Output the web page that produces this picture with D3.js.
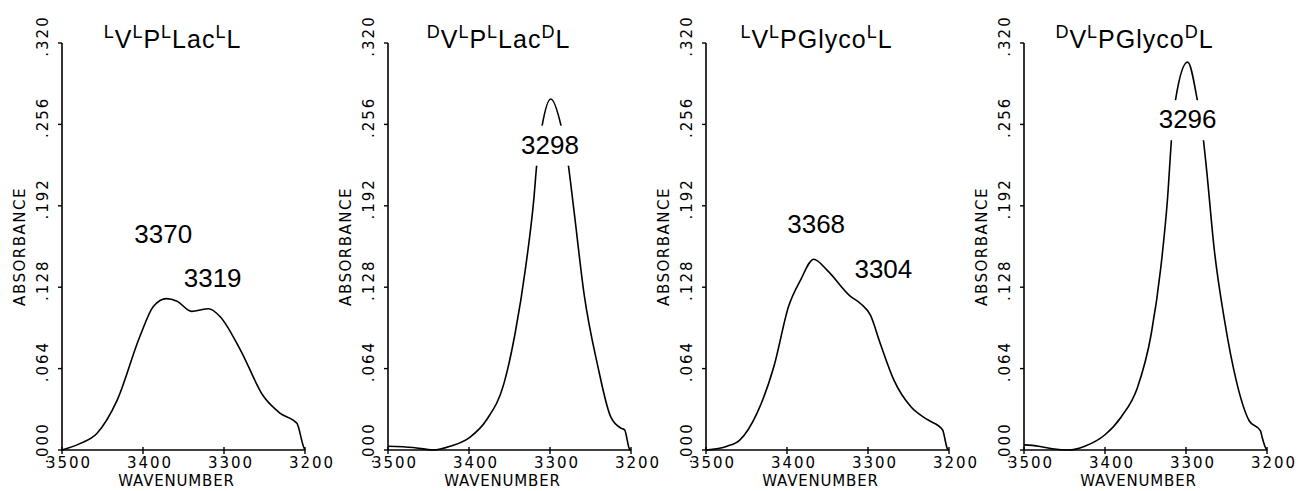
<!DOCTYPE html>
<html>
<head>
<meta charset="utf-8">
<script src="https://cdn.jsdelivr.net/npm/d3@7"></script>
<style>
  body { margin: 0; background: #fff; }
  svg { display: block; }
  .axis-text { font-family: "DejaVu Sans", sans-serif; font-size: 15px; letter-spacing: 2px; fill: #000; }
  .axis-title { font-family: "DejaVu Sans", sans-serif; font-size: 15px; fill: #000; }
  .title { font-family: "Liberation Sans", Arial, sans-serif; font-size: 25px; letter-spacing: 1px; fill: #000; }
  .peak { font-family: "Liberation Sans", Arial, sans-serif; font-size: 26px; fill: #000; }
</style>
</head>
<body>
<svg id="chart" width="1302" height="491"></svg>
<script>
// tick values
const wnTicks = [3500, 3400, 3300, 3200];
const absTicks = [0, 0.064, 0.128, 0.192, 0.256, 0.32];

// LV LP LLac LL
const wn1 = [3500, 3478, 3457, 3432, 3404, 3387, 3371, 3358, 3340, 3319, 3305, 3280, 3251, 3231, 3210, 3202, 3200];
const abs1 = [0, 0.005, 0.013, 0.039, 0.089, 0.113, 0.119, 0.117, 0.109, 0.111, 0.105, 0.079, 0.042, 0.029, 0.021, 0.003, 0];

// DV LP LLac DL
const wn2 = [3500, 3469, 3444, 3423, 3399, 3378, 3357, 3343, 3330, 3320, 3316, 3310, 3299, 3286, 3278, 3270, 3258, 3241, 3225, 3212, 3208, 3202, 3200];
const abs2 = [0.003, 0.002, 0, 0.003, 0.010, 0.024, 0.052, 0.092, 0.144, 0.197, 0.227, 0.254, 0.276, 0.254, 0.227, 0.186, 0.123, 0.066, 0.026, 0.017, 0.016, 0.001, 0];

// LV LPGlyco LL
const wn3 = [3500, 3474, 3458, 3437, 3416, 3398, 3383, 3367, 3350, 3322, 3309, 3297, 3285, 3268, 3247, 3227, 3208, 3202, 3200];
const abs3 = [0, 0.003, 0.008, 0.029, 0.066, 0.113, 0.134, 0.150, 0.141, 0.121, 0.115, 0.106, 0.084, 0.055, 0.034, 0.024, 0.016, 0.001, 0];

// DV LPGlyco DL
const wn4 = [3500, 3482, 3465, 3445, 3425, 3400, 3380, 3360, 3343, 3331, 3323, 3317, 3313, 3298, 3286, 3280, 3275, 3265, 3253, 3237, 3222, 3208, 3206, 3202, 3200];
const abs4 = [0.004, 0.003, 0.001, 0, 0.003, 0.012, 0.026, 0.049, 0.091, 0.144, 0.196, 0.252, 0.275, 0.305, 0.275, 0.252, 0.223, 0.157, 0.104, 0.052, 0.023, 0.015, 0.010, 0.002, 0];

// titles: [text, isSuperscript]
const title1 = [["L", 1], ["V", 0], ["L", 1], ["P", 0], ["L", 1], ["Lac", 0], ["L", 1], ["L", 0]];
const title2 = [["D", 1], ["V", 0], ["L", 1], ["P", 0], ["L", 1], ["Lac", 0], ["D", 1], ["L", 0]];
const title3 = [["L", 1], ["V", 0], ["L", 1], ["PGlyco", 0], ["L", 1], ["L", 0]];
const title4 = [["D", 1], ["V", 0], ["L", 1], ["PGlyco", 0], ["D", 1], ["L", 0]];

// peak labels: [text, wavenumber, absorbance]
const peaks1 = [["3370", 3375, 0.163], ["3319", 3314, 0.128]];
const peaks2 = [["3298", 3300, 0.233]];
const peaks3 = [["3368", 3364, 0.171], ["3304", 3281, 0.135]];
const peaks4 = [["3296", 3298, 0.253]];

const panels = [
  { left: 62, wn: wn1, abs: abs1, title: title1, peaks: peaks1 },
  { left: 388, wn: wn2, abs: abs2, title: title2, peaks: peaks2 },
  { left: 706, wn: wn3, abs: abs3, title: title3, peaks: peaks3 },
  { left: 1024, wn: wn4, abs: abs4, title: title4, peaks: peaks4 },
];

const plotW = 243, plotTop = 43, plotBottom = 450;
const svg = d3.select("#chart");
const fmt = (v) => d3.format(".3f")(v).replace(/^0/, "");

panels.forEach(function (p) {
  const x = d3.scaleLinear().domain([3500, 3200]).range([p.left, p.left + plotW]);
  const y = d3.scaleLinear().domain([0, 0.32]).range([plotBottom, plotTop]);
  const g = svg.append("g");

  // axes lines
  g.append("line").attr("x1", x(3500)).attr("x2", x(3200)).attr("y1", y(0)).attr("y2", y(0))
    .attr("stroke", "#000").attr("stroke-width", 1.6);
  g.append("line").attr("x1", x(3500)).attr("x2", x(3500)).attr("y1", y(0)).attr("y2", y(0.32))
    .attr("stroke", "#000").attr("stroke-width", 1.6);

  // y ticks
  g.selectAll("line.yt").data(absTicks).join("line").attr("class", "yt")
    .attr("x1", x(3500) - 4).attr("x2", x(3500))
    .attr("y1", (d) => y(d)).attr("y2", (d) => y(d))
    .attr("stroke", "#000").attr("stroke-width", 1.4);
  g.selectAll("text.yl").data(absTicks).join("text").attr("class", "yl axis-text")
    .attr("transform", (d) => "translate(" + (x(3500) - 14) + "," + y(d) + ") rotate(-90)")
    .attr("x", 7).attr("text-anchor", "middle")
    .text(fmt);

  // x ticks
  g.selectAll("line.xt").data(wnTicks).join("line").attr("class", "xt")
    .attr("x1", (d) => x(d)).attr("x2", (d) => x(d))
    .attr("y1", y(0) - 3).attr("y2", y(0) + 4)
    .attr("stroke", "#000").attr("stroke-width", 1.4);
  g.selectAll("text.xl").data(wnTicks).join("text").attr("class", "xl axis-text")
    .attr("x", (d) => x(d) + 7).attr("y", 468).attr("text-anchor", "middle")
    .text((d) => d);

  // axis titles
  g.append("text").attr("class", "axis-title")
    .attr("x", x(3350) - 7).attr("y", 486).attr("text-anchor", "middle")
    .attr("letter-spacing", "0.8px")
    .text("WAVENUMBER");
  g.append("text").attr("class", "axis-title")
    .attr("transform", "translate(" + (x(3500) - 37) + "," + y(0.16) + ") rotate(-90)")
    .attr("text-anchor", "middle").attr("letter-spacing", "1.5px")
    .text("ABSORBANCE");

  // spectrum
  const pts = p.wn.map((w, i) => [w, p.abs[i]]);
  const line = d3.line().x((d) => x(d[0])).y((d) => y(d[1])).curve(d3.curveMonotoneX);
  g.append("path").datum(pts).attr("d", line)
    .attr("fill", "none").attr("stroke", "#000").attr("stroke-width", 1.6);

  // peak labels with white gap behind
  p.peaks.forEach(function (pk) {
    const t = g.append("text").attr("class", "peak")
      .attr("x", x(pk[1])).attr("y", y(pk[2])).attr("text-anchor", "middle").text(pk[0]);
    const bb = t.node().getBBox();
    g.insert("rect", "text.peak")
      .attr("x", bb.x - 2).attr("y", bb.y - 4).attr("width", bb.width + 4).attr("height", bb.height + 10)
      .attr("fill", "#fff");
  });

  // panel title
  const tt = g.append("text").attr("class", "title")
    .attr("x", x(3350) - 11).attr("y", 48).attr("text-anchor", "middle");
  p.title.forEach(function (part) {
    tt.append("tspan").text(part[0])
      .attr("font-size", part[1] ? "18px" : null)
      .attr("baseline-shift", part[1] ? "10px" : null);
  });
});
</script>
</body>
</html>
